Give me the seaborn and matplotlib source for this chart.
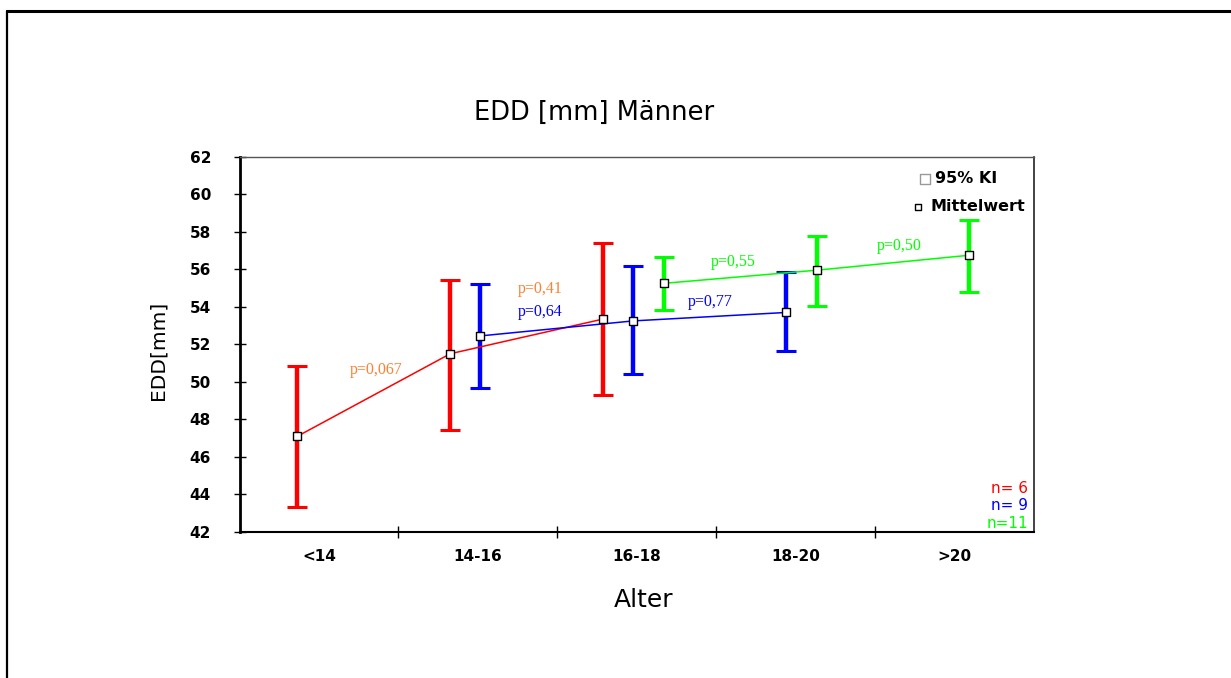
import numpy as np
import pandas as pd
import matplotlib
matplotlib.use("Agg")
import matplotlib.pyplot as plt
from matplotlib.lines import Line2D
import seaborn as sns

# Age classes on the x axis
categories = ["<14", "14-16", "16-18", "18-20", ">20"]

# Three cohorts, each followed over three consecutive age classes
group_names = ["n= 6", "n= 9", "n=11"]
group_start = [0, 1, 2]          # index of first age class per cohort
group_colors = ["#FF0000", "#0000FF", "#00FF00"]

red_mean = [47.1, 51.5, 53.35]
red_lo = [43.35, 47.45, 49.3]
red_hi = [50.85, 55.45, 57.4]

blue_mean = [52.45, 53.25, 53.7]
blue_lo = [49.7, 50.4, 51.65]
blue_hi = [55.2, 56.15, 55.85]

green_mean = [55.25, 55.95, 56.75]
green_lo = [53.85, 54.05, 54.8]
green_hi = [56.65, 57.8, 58.65]

# p-values between consecutive measurements of each cohort
p_texts = ["p=0,067", "p=0,41", "p=0,64", "p=0,77", "p=0,55", "p=0,50"]
p_colors = ["#FF8033", "#FF8033", "#0000FF", "#0000FF", "#00FF00", "#00FF00"]
p_x = [0.359, 1.390, 1.390, 2.459, 2.604, 3.649]
p_y = [50.64, 54.96, 53.73, 54.27, 56.40, 57.25]

means = [red_mean, blue_mean, green_mean]
los = [red_lo, blue_lo, green_lo]
his = [red_hi, blue_hi, green_hi]

rows = []
for g, (name, start) in enumerate(zip(group_names, group_start)):
    for k in range(3):
        i = start + k
        # cohorts are drawn side by side, slightly shifted within each class
        pos = -0.136 + 0.962 * i + 0.19 * g
        rows.append(dict(group=name, pos=pos, mean=means[g][k],
                         lo=los[g][k], hi=his[g][k]))
df = pd.DataFrame(rows)

sns.set_theme(style="white")
plt.rcParams["font.family"] = ["DejaVu Sans"]

W, H = 1231, 678
fig = plt.figure(figsize=(W / 100, H / 100), dpi=100)
fig.patch.set_facecolor("white")
ax = fig.add_axes([239.5 / W, 1 - 532 / H, 794.8 / W, 375.3 / H])
ax.set_facecolor("white")

# confidence intervals
for g, name in enumerate(group_names):
    sub = df[df["group"] == name]
    ax.errorbar(sub["pos"], sub["mean"],
                yerr=[sub["mean"] - sub["lo"], sub["hi"] - sub["mean"]],
                fmt="none", ecolor=group_colors[g], elinewidth=3.2,
                capsize=7, capthick=2.2, zorder=2)

# connecting lines of the means
sns.lineplot(data=df, x="pos", y="mean", hue="group", palette=group_colors,
             hue_order=group_names, linewidth=1.1, legend=False, sort=False,
             estimator=None, ax=ax, zorder=3)

# mean markers
sns.scatterplot(data=df, x="pos", y="mean", marker="s", s=26, color="white",
                edgecolor="black", linewidth=1.0, ax=ax, zorder=4)

for t, c, x, y in zip(p_texts, p_colors, p_x, p_y):
    ax.text(x, y, t, color=c, fontsize=11.5, family="Liberation Serif",
            ha="center", va="center", zorder=5)

ax.set_xlim(-0.5, 4.5)
ax.set_ylim(42, 62)
ax.set_yticks(np.arange(42, 63, 2))
ax.set_xticks(range(len(categories)))
ax.set_xticklabels(categories, fontweight="bold")
ax.set_xticks([0.5, 1.5, 2.5, 3.5], minor=True)
plt.setp(ax.get_yticklabels(), fontweight="bold")
ax.set_xlabel("")
ax.set_ylabel("")

ax.tick_params(axis="y", which="major", left=True, direction="inout",
               length=9, width=1, color="black", pad=16, labelsize=11,
               labelcolor="black")
ax.tick_params(axis="x", which="major", bottom=True, length=0, pad=12,
               labelsize=11, labelcolor="black")
ax.tick_params(axis="x", which="minor", bottom=True, direction="inout",
               length=9, width=1, color="black")

for side, lw, col in [("left", 2.0, "black"), ("bottom", 1.5, "black"),
                      ("top", 1.0, "#555555"), ("right", 1.2, "#222222")]:
    ax.spines[side].set_visible(True)
    ax.spines[side].set_linewidth(lw)
    ax.spines[side].set_color(col)

# legend block
ax.scatter([0.8625], [0.9406], marker="s", s=60, facecolor="white",
           edgecolor="#999999", linewidth=1.0, transform=ax.transAxes,
           clip_on=False, zorder=6)
ax.text(0.8751, 0.9406, "95% KI", transform=ax.transAxes, fontsize=11.5,
        fontweight="bold", ha="left", va="center", color="black")
ax.scatter([0.8533], [0.8652], marker="s", s=22, facecolor="white",
           edgecolor="black", linewidth=1.0, transform=ax.transAxes,
           clip_on=False, zorder=6)
ax.text(0.8697, 0.8686, "Mittelwert", transform=ax.transAxes, fontsize=11.5,
        fontweight="bold", ha="left", va="center", color="black")

# group sizes
for name, c, y in zip(group_names, group_colors, [0.1164, 0.0693, 0.0232]):
    ax.text(0.992, y, name, transform=ax.transAxes, color=c, fontsize=11,
            ha="right", va="center")

# titles
fig.text(594 / W, 1 - 113 / H, "EDD [mm] Männer", fontsize=18.5,
         ha="center", va="center", color="black")
fig.text(644 / W, 1 - 600 / H, "Alter", fontsize=18,
         ha="center", va="center", color="black")
fig.text(157.5 / W, 1 - 350 / H, "EDD[mm]", fontsize=14.5, rotation=90,
         ha="center", va="center", color="black")

# page frame
fig.add_artist(Line2D([6.5 / W, 1], [1 - 11 / H, 1 - 11 / H],
                      transform=fig.transFigure, color="black", lw=2.2))
fig.add_artist(Line2D([6.5 / W, 6.5 / W], [0, 1 - 11 / H],
                      transform=fig.transFigure, color="black", lw=1.6))

fig.savefig("out.png", dpi=100, facecolor="white")
